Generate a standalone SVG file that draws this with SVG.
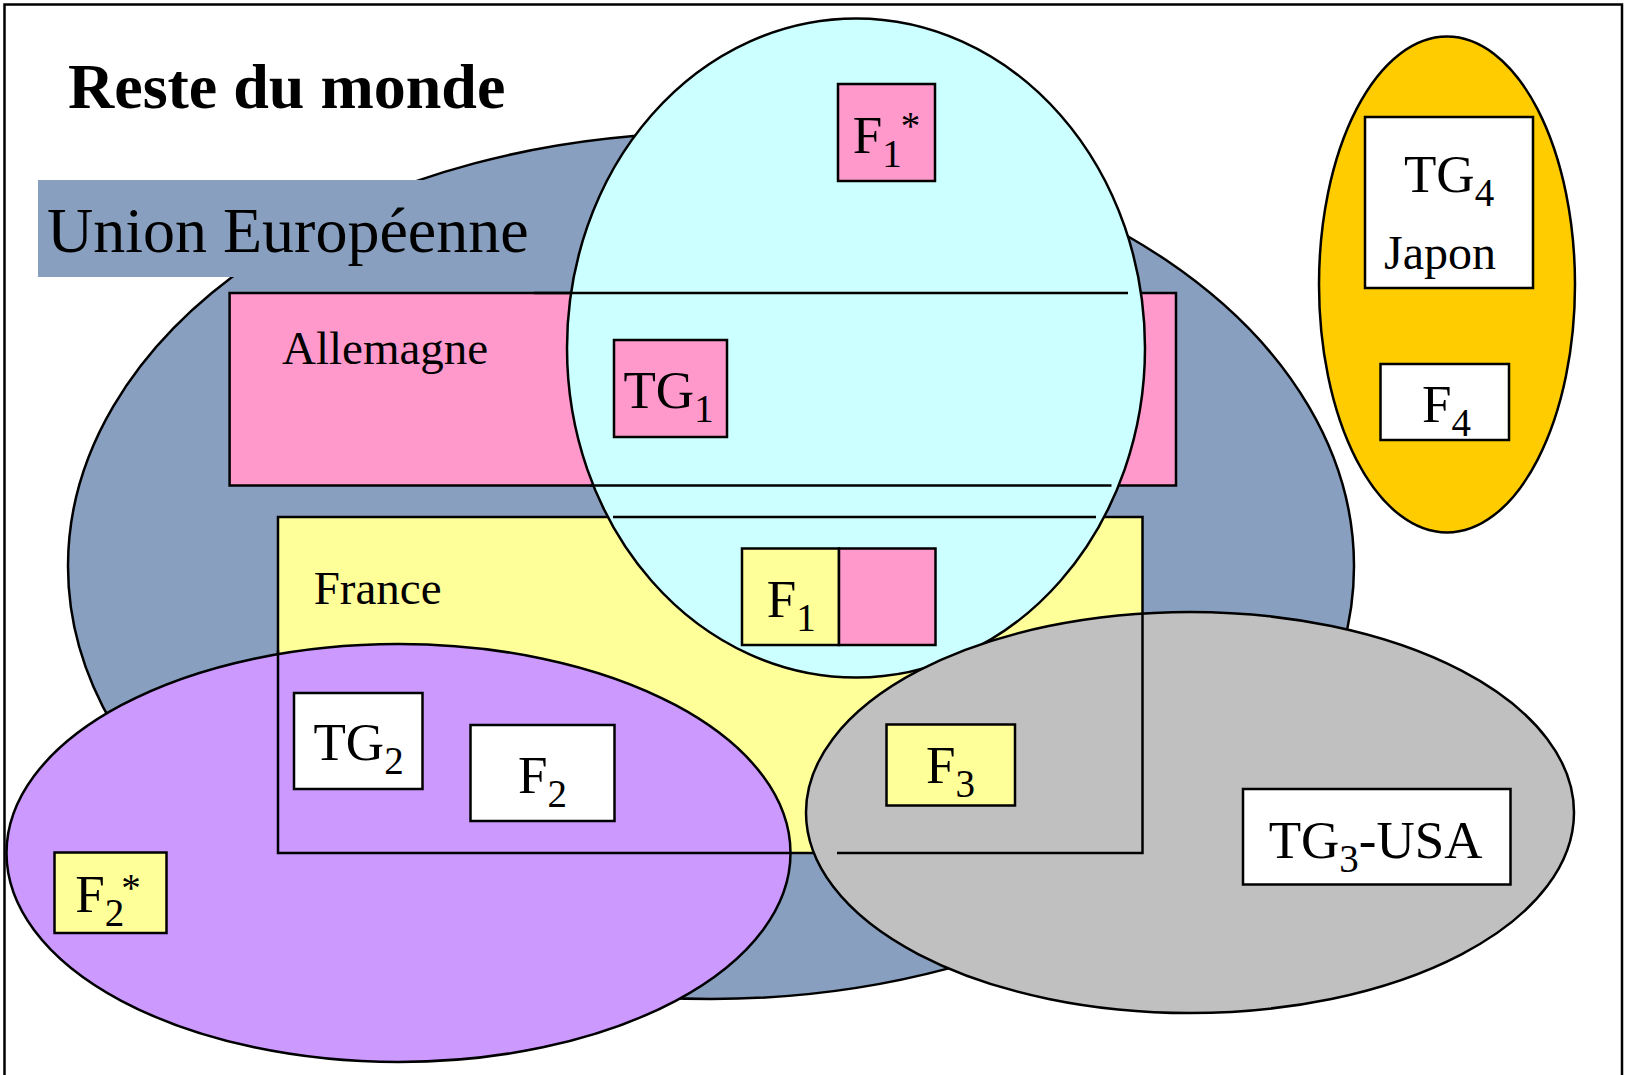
<svg xmlns="http://www.w3.org/2000/svg" width="1629" height="1075" viewBox="0 0 1629 1075">
<style>
  .s { stroke: #000; stroke-width: 2.5; }
  .ln { stroke: #000; stroke-width: 2.5; fill: none; }
  .t { font-family: "Liberation Serif", "Times New Roman", serif; fill: #000; }
  .big { font-size: 64px; }
  .lbl { font-size: 47px; }
  .n { font-size: 53px; }
  .sub { font-size: 39px; }
  .blue { fill: #889FBF; }
  .pink { fill: #FF99CC; }
  .yel { fill: #FFFF99; }
  .cyan { fill: #CCFFFF; }
  .purp { fill: #CC99FF; }
  .grey { fill: #C0C0C0; }
  .orng { fill: #FFCC00; }
  .wht { fill: #FFFFFF; }
</style>
<rect x="0" y="0" width="1629" height="1075" fill="#FFFFFF"/>
<g id="reste-du-monde">
  <rect x="4.5" y="4.5" width="1617.5" height="1080" fill="#FFFFFF" class="s"/>
</g>
<g id="union-europeenne">
  <ellipse cx="711" cy="566" rx="643" ry="433" class="blue s"/>
  <rect x="38" y="180" width="513" height="97" class="blue"/>
  <text x="47" y="252" class="t big">Union Européenne</text>
</g>
<g id="allemagne">
  <rect x="229.6" y="293" width="946.4" height="192.5" class="pink s"/>
  <text x="282" y="364.3" class="t lbl">Allemagne</text>
</g>
<g id="france">
  <rect x="278" y="517" width="864.5" height="336" class="yel s"/>
  <text x="313.7" y="604.3" class="t lbl">France</text>
</g>
<g id="zone-cyan">
  <ellipse cx="856" cy="348" rx="289" ry="329.5" class="cyan s"/>
</g>
<g id="connectors">
  <line x1="534" y1="293" x2="1128" y2="293" class="ln"/>
  <line x1="590" y1="485.5" x2="1111.5" y2="485.5" class="ln"/>
  <line x1="613" y1="517" x2="1096" y2="517" class="ln"/>
</g>
<g id="F1star">
  <rect x="838" y="84" width="97" height="97" class="pink s"/>
  <text x="852.7" y="152.7" class="t n">F<tspan class="sub" dy="14">1</tspan><tspan class="sub" dx="-1" dy="-28">*</tspan></text>
</g>
<g id="TG1">
  <rect x="614" y="340" width="113" height="97" class="pink s"/>
  <text x="623.5" y="408" class="t n">TG<tspan class="sub" dy="14">1</tspan></text>
</g>
<g id="F1">
  <rect x="742" y="548.5" width="97" height="96.5" class="yel s"/>
  <rect x="839" y="548.5" width="96.5" height="96.5" class="pink s"/>
  <text x="766.8" y="616.7" class="t n">F<tspan class="sub" dy="14">1</tspan></text>
</g>
<g id="zone-purple">
  <ellipse cx="398.5" cy="853" rx="392" ry="209" class="purp s"/>
</g>
<g id="connectors-france-left">
  <polyline points="278,650 278,853 791,853" class="ln"/>
</g>
<g id="TG2">
  <rect x="294" y="693" width="128.5" height="96" class="wht s"/>
  <text x="313.5" y="760" class="t n">TG<tspan class="sub" dy="14">2</tspan></text>
</g>
<g id="F2">
  <rect x="470.5" y="725" width="144" height="96" class="wht s"/>
  <text x="518" y="792.7" class="t n">F<tspan class="sub" dy="14">2</tspan></text>
</g>
<g id="F2star">
  <rect x="54.5" y="852.5" width="112" height="80.5" class="yel s"/>
  <text x="75.3" y="911.7" class="t n">F<tspan class="sub" dy="14">2</tspan><tspan class="sub" dx="-3" dy="-25">*</tspan></text>
</g>
<g id="zone-grey">
  <ellipse cx="1190" cy="812.5" rx="384" ry="200.5" class="grey s"/>
</g>
<g id="connectors-france-right">
  <polyline points="837,853 1142.5,853 1142.5,613" class="ln"/>
</g>
<g id="F3">
  <rect x="886.5" y="724.5" width="128.5" height="81" class="yel s"/>
  <text x="926" y="783.3" class="t n">F<tspan class="sub" dy="14">3</tspan></text>
</g>
<g id="TG3-USA">
  <rect x="1243" y="789" width="267.5" height="95.5" class="wht s"/>
  <text x="1268.7" y="857.5" class="t n">TG<tspan class="sub" dy="14">3</tspan><tspan dy="-14">-USA</tspan></text>
</g>
<g id="japon">
  <ellipse cx="1447" cy="284.5" rx="128" ry="248" class="orng s"/>
</g>
<g id="TG4">
  <rect x="1365" y="117" width="168" height="171" class="wht s"/>
  <text x="1404" y="191.7" class="t n">TG<tspan class="sub" dy="14">4</tspan></text>
  <text x="1384" y="269.3" class="t" font-size="48">Japon</text>
</g>
<g id="F4">
  <rect x="1380.5" y="364" width="128.5" height="76" class="wht s"/>
  <text x="1421.9" y="421.5" class="t n">F<tspan class="sub" dy="14">4</tspan></text>
</g>
<g id="title">
  <text x="68" y="108.3" class="t big" font-weight="bold">Reste du monde</text>
</g>
</svg>
